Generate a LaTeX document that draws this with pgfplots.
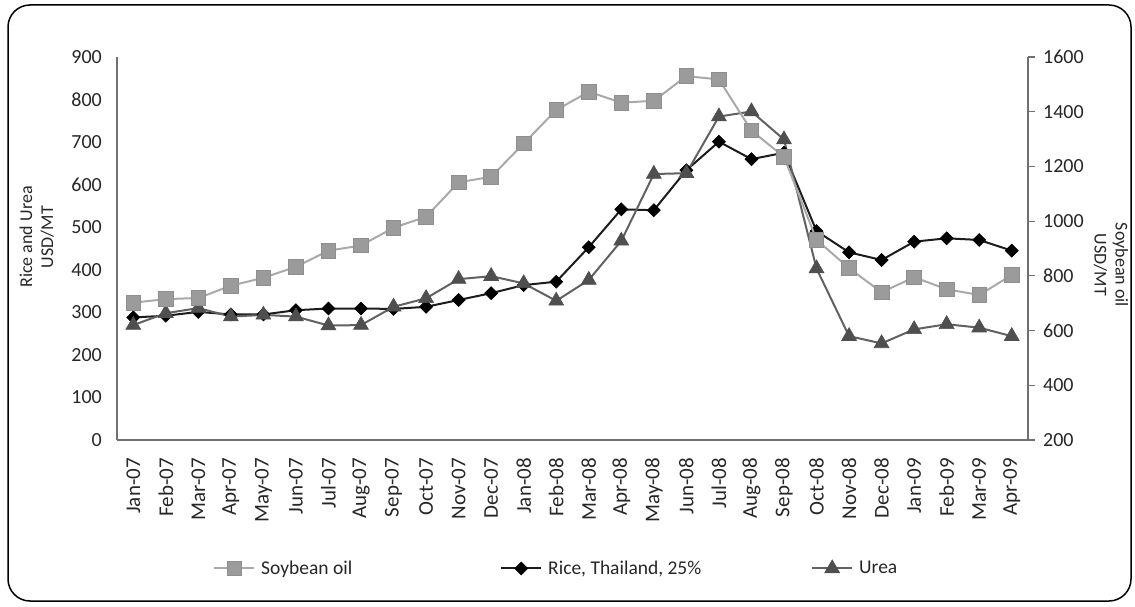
\documentclass[border=0pt]{standalone}
\usepackage{pgfplots}
\usepackage{pgfplotstable}
\pgfplotsset{compat=1.18}
\usepackage{fontspec}
\setmainfont{Carlito}

\definecolor{soyline}{HTML}{A9A9A9}
\definecolor{soyfill}{HTML}{9B9B9B}
\definecolor{soydraw}{HTML}{8E8E8E}
\definecolor{riceline}{HTML}{1C1C1C}
\definecolor{urealine}{HTML}{616161}
\definecolor{ureafill}{HTML}{4F4F4F}
\definecolor{axisgray}{HTML}{707070}
\definecolor{textgray}{HTML}{262626}

% Monthly prices, USD per metric ton
\pgfplotstableread{
idx soy  rice urea
0   702  288  270
1   715  292  298
2   719  301  310
3   764  295  290
4   793  295  294
5   833  305  290
6   892  309  269
7   911  309  270
8   976  308  313
9   1016 313  333
10  1142 329  378
11  1162 345  385
12  1284 364  368
13  1406 372  327
14  1473 453  376
15  1433 542  468
16  1440 540  625
17  1530 634  627
18  1518 701  760
19  1331 660  772
20  1235 675  706
21  932  491  403
22  828  441  244
23  740  423  227
24  795  466  260
25  751  474  272
26  730  470  264
27  803  445  244
}\prices

\pgfplotsset{
  soystyle/.style={color=soyline, line width=2pt, mark=square*,
    mark size=7.3pt, mark options={fill=soyfill, draw=soydraw, line width=0.8pt}},
  ricestyle/.style={color=riceline, line width=2pt, mark=square*,
    mark size=4.6pt, mark options={rotate=45, fill=black, draw=black, line width=0.6pt}},
  ureastyle/.style={color=urealine, line width=2pt, mark=triangle*,
    mark size=8.6pt, mark options={fill=ureafill, draw=ureafill, line width=0.6pt}},
  common/.style={
    at={(117pt,166pt)}, anchor=south west,
    scale only axis, width=911pt, height=383pt,
    xmin=-0.5, xmax=27.5,
    clip=false,
    /pgf/number format/assume math mode=true,
    /pgf/number format/set thousands separator={},
    tick label style={font=\fontsize{20}{22}\selectfont, text=textgray},
    axis line style={axisgray, line width=1.2pt},
  },
}

\begin{document}
\begin{tikzpicture}[x=1pt,y=1pt]
\useasboundingbox (0,0) rectangle (1135,606);
\draw[black, line width=1.5pt, rounded corners=22pt] (8,5) rectangle (1131,601);

\begin{axis}[
  common,
  ymin=0, ymax=900,
  ytick={0,100,...,900},
  axis y line*=left, axis x line*=bottom,
  major tick length=0pt,
  xtick={0,...,27},
  xticklabels={Jan-07,Feb-07,Mar-07,Apr-07,May-07,Jun-07,Jul-07,Aug-07,Sep-07,Oct-07,Nov-07,Dec-07,
    Jan-08,Feb-08,Mar-08,Apr-08,May-08,Jun-08,Jul-08,Aug-08,Sep-08,Oct-08,Nov-08,Dec-08,
    Jan-09,Feb-09,Mar-09,Apr-09},
  xticklabel style={rotate=90, anchor=east, inner sep=0pt, xshift=-18pt,
    font=\fontsize{21}{22}\selectfont},
  yticklabel style={anchor=east, inner sep=0pt, xshift=-15pt},
  ylabel={Rice and Urea\\USD/MT},
  ylabel style={align=center, at={(axis description cs:-0.088,0.53)}, anchor=center,
    font=\fontsize{18}{21}\selectfont, text=textgray},
  legend columns=3,
  legend style={at={(axis description cs:0.1054,-0.334)}, anchor=west,
    draw=none, fill=none, inner sep=0pt, row sep=0pt,
    font=\fontsize{19.5}{22}\selectfont, text=textgray,
    nodes={inner sep=0pt},
    /tikz/every odd column/.append style={column sep=6pt}},
  legend image code/.code={
    \draw[mark repeat=2, mark phase=2, #1] plot coordinates {(0pt,0pt) (20pt,0pt) (40pt,0pt)};
  },
]
\addlegendimage{soystyle}
\addlegendentry{\makebox[239pt][l]{Soybean oil}}
\addplot[ricestyle] table[x=idx, y=rice] {\prices};
\addlegendentry{\makebox[263pt][l]{Rice, Thailand, 25\%}}
\addplot[ureastyle] table[x=idx, y=urea] {\prices};
\addlegendentry{Urea}
\end{axis}

\begin{axis}[
  common,
  ymin=200, ymax=1600,
  ytick={200,400,...,1600},
  axis y line*=right, axis x line=none,
  tick align=outside, major tick length=7pt,
  ytick style={axisgray, line width=1.2pt},
  yticklabel style={anchor=west, inner sep=0pt, xshift=8pt},
  ylabel={Soybean oil\\USD/MT},
  ylabel style={align=center, rotate=180, at={(axis description cs:1.091,0.457)}, anchor=center,
    font=\fontsize{18}{21}\selectfont, text=textgray},
]
\addplot[soystyle] table[x=idx, y=soy] {\prices};
\end{axis}
\end{tikzpicture}
\end{document}
